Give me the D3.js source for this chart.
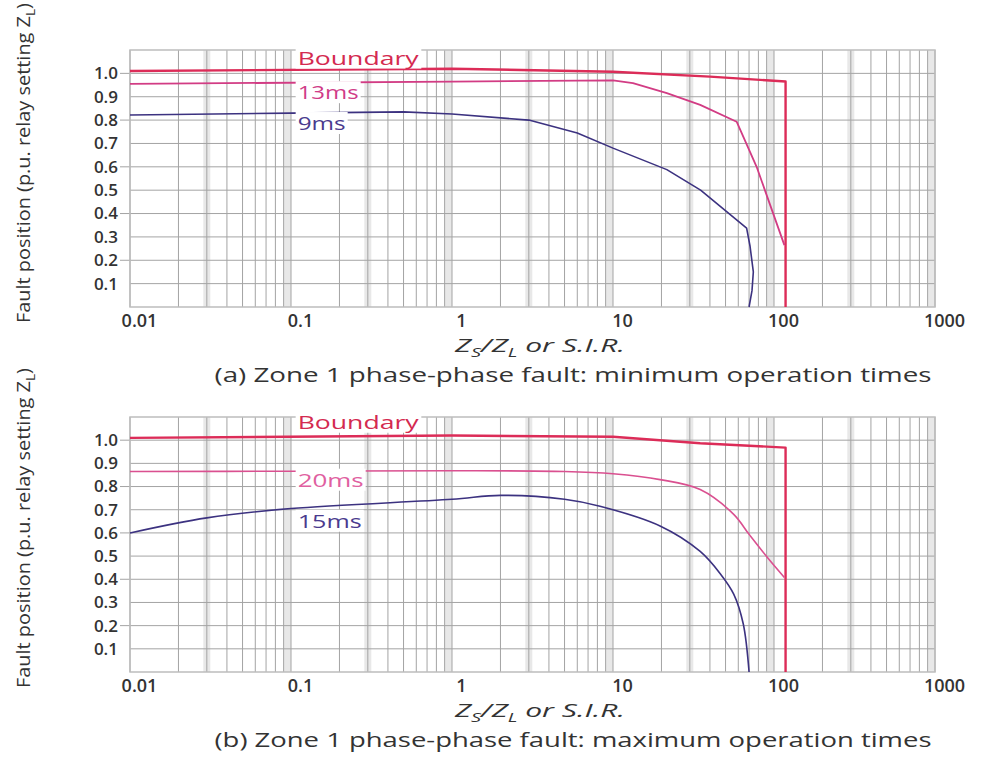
<!DOCTYPE html>
<html>
<head>
<meta charset="utf-8">
<script src="https://cdn.jsdelivr.net/npm/d3@7"></script>
<style>
  body { margin: 0; background: #fff; }
  svg { display: block; font-family: "Open Sans", "DejaVu Sans", sans-serif; }
</style>
</head>
<body>
<svg id="chart" width="983" height="762"></svg>
<script>
// ---- data ----
const xTicks = [0.01, 0.1, 1, 10, 100, 1000];
const yTicks = [0.1, 0.2, 0.3, 0.4, 0.5, 0.6, 0.7, 0.8, 0.9, 1.0];

// (a) minimum operation times
const aBoundaryX = [0.01, 1, 10, 40, 118, 118];
const aBoundaryY = [1.01, 1.02, 1.007, 0.986, 0.965, 0];
const a13msX = [0.01, 1, 10, 13.3, 21.6, 34.8, 58.6, 78, 116];
const a13msY = [0.955, 0.965, 0.97, 0.958, 0.915, 0.865, 0.793, 0.6, 0.265];
const a9msX = [0.01, 0.1, 0.5, 1, 3, 6, 10, 21.6, 35, 67.6, 71, 74.4, 73, 70];
const a9msY = [0.822, 0.83, 0.835, 0.826, 0.8, 0.745, 0.68, 0.588, 0.5, 0.338, 0.26, 0.15, 0.07, 0];

// (b) maximum operation times
const bBoundaryX = [0.01, 1, 10, 34.8, 118, 118];
const bBoundaryY = [1.01, 1.02, 1.015, 0.987, 0.968, 0];
const b20msX = [0.01, 0.1, 1, 5, 10, 19.6, 34.8, 56.2, 70, 91, 116];
const b20msY = [0.865, 0.866, 0.868, 0.865, 0.855, 0.83, 0.787, 0.68, 0.594, 0.494, 0.408];
const b15msX = [0.01, 0.03, 0.1, 1, 2, 5, 8.3, 19.6, 34.8, 46.6, 56.2, 64.4, 70];
const b15msY = [0.6, 0.665, 0.705, 0.745, 0.762, 0.745, 0.715, 0.63, 0.52, 0.422, 0.336, 0.208, 0];

const captions = [
  "(a) Zone 1 phase-phase fault: minimum operation times",
  "(b) Zone 1 phase-phase fault: maximum operation times"
];

const red = "#dc2c58", pink = "#d23c84", purple = "#3c3280";

const zip = (xs, ys) => xs.map((v, i) => [v, ys[i]]);

const panels = [
  {
    top: 50, h: 257, caption: captions[0],
    series: [
      { name: "Boundary", pts: zip(aBoundaryX, aBoundaryY), color: red, w: 2.4, lab: 1.066, labW: 121, labColor: "#d42a50" },
      { name: "13ms", pts: zip(a13msX, a13msY), color: pink, w: 1.8, lab: 0.918, labW: 61, labColor: "#d03c88" },
      { name: "9ms", pts: zip(a9msX, a9msY), color: purple, w: 1.6, lab: 0.786, labW: 48, labColor: "#4a3a8e" }
    ],
    curve: d3.curveLinear
  },
  {
    top: 417, h: 255, caption: captions[1],
    series: [
      { name: "Boundary", pts: zip(bBoundaryX, bBoundaryY), color: red, w: 2.4, lab: 1.078, labW: 121, labColor: "#d42a50" },
      { name: "20ms", pts: zip(b20msX, b20msY), color: "#da5090", w: 1.6, lab: 0.828, labW: 66, labColor: "#e060a0" },
      { name: "15ms", pts: zip(b15msX, b15msY), color: purple, w: 1.6, lab: 0.651, labW: 64, labColor: "#4a3a8e" }
    ],
    curve: d3.curveCatmullRom.alpha(0.5)
  }
];

const svg = d3.select("#chart");
const left = 130, width = 805;
const x = d3.scaleLog().domain([0.01, 1000]).range([0, width]);

panels.forEach(drawPanel);

function drawPanel(p) {
  const y = d3.scaleLinear().domain([0, 1.1]).range([p.h, 0]);
  const g = svg.append("g").attr("transform", `translate(${left},${p.top})`);

  // light bands at 3 and 9-10 in each decade
  const decades = [0.01, 0.1, 1, 10, 100];
  decades.forEach((d) => {
    g.append("rect").attr("x", x(3 * d) - 3.5).attr("y", 0)
      .attr("width", 7).attr("height", p.h).attr("fill", "#e8e8e8");
    g.append("rect").attr("x", x(9 * d)).attr("y", 0)
      .attr("width", x(10 * d) - x(9 * d)).attr("height", p.h).attr("fill", "#e8e8e8");
  });

  // log grid
  const vals = [];
  decades.forEach((d) => { for (let k = 1; k <= 9; k++) vals.push(k * d); });
  vals.push(1000);
  g.selectAll(".vgrid").data(vals).enter().append("line")
    .attr("class", "vgrid")
    .attr("x1", (d) => x(d)).attr("x2", (d) => x(d))
    .attr("y1", 0).attr("y2", p.h)
    .attr("stroke", "#a4a4a4").attr("stroke-width", 1);

  g.selectAll(".hgrid").data(yTicks).enter().append("line")
    .attr("class", "hgrid")
    .attr("x1", (d) => (Math.round(d * 10) % 2 === 0 ? -10 : 0)).attr("x2", width)
    .attr("y1", (d) => y(d)).attr("y2", (d) => y(d))
    .attr("stroke", "#a4a4a4").attr("stroke-width", 1);

  g.append("rect").attr("width", width).attr("height", p.h)
    .attr("fill", "none").attr("stroke", "#bdbdbd").attr("stroke-width", 1.5);

  // axes (labels only)
  const xAxis = d3.axisBottom(x).tickValues(xTicks)
    .tickFormat((d) => String(d)).tickSize(0).tickPadding(7);
  const gx = g.append("g").attr("transform", `translate(0,${p.h})`).call(xAxis);
  gx.select(".domain").remove();
  gx.selectAll("text").attr("dx", 9).attr("font-size", 18)
    .attr("font-family", "'Open Sans', sans-serif").attr("font-weight", 600).attr("fill", "#333");

  const yAxis = d3.axisLeft(y).tickValues(yTicks)
    .tickFormat(d3.format(".1f")).tickSize(0).tickPadding(12);
  const gy = g.append("g").call(yAxis);
  gy.select(".domain").remove();
  gy.selectAll("text").attr("font-size", 17)
    .attr("font-family", "'Open Sans', sans-serif").attr("font-weight", 600).attr("fill", "#333");

  // curves
  const line = d3.line().x((d) => x(d[0])).y((d) => y(d[1]));
  p.series.forEach((s) => {
    g.append("path").datum(s.pts)
      .attr("fill", "none").attr("stroke", s.color).attr("stroke-width", s.w)
      .attr("stroke-linejoin", "round")
      .attr("d", line.curve(s.name === "Boundary" ? d3.curveLinear : p.curve));
  });

  // series labels with white backing
  p.series.forEach((s) => {
    const t = g.append("text")
      .attr("x", x(0.11)).attr("y", y(s.lab)).attr("dy", "0.35em")
      .attr("font-size", 19).attr("font-weight", 500).attr("fill", s.labColor)
      .attr("textLength", s.labW).attr("lengthAdjust", "spacingAndGlyphs")
      .text(s.name);
    const b = t.node().getBBox();
    g.insert("rect", () => t.node())
      .attr("x", b.x - 2).attr("y", b.y + 2).attr("width", b.width + 4).attr("height", b.height - 4)
      .attr("fill", "#fff");
  });

  // axis title
  const xt = svg.append("text")
    .attr("x", 540).attr("y", p.top + p.h + 45)
    .attr("text-anchor", "middle").attr("font-size", 18).attr("font-style", "italic")
    .attr("fill", "#333").attr("textLength", 170).attr("lengthAdjust", "spacingAndGlyphs");
  xt.append("tspan").text("Z");
  xt.append("tspan").attr("font-size", 12).attr("dy", 5).text("S");
  xt.append("tspan").attr("dy", -5).text("/Z");
  xt.append("tspan").attr("font-size", 12).attr("dy", 5).text("L");
  xt.append("tspan").attr("dy", -5).text(" or S.I.R.");

  // caption
  svg.append("text")
    .attr("x", 573).attr("y", p.top + p.h + 75)
    .attr("text-anchor", "middle").attr("font-size", 20).attr("fill", "#333")
    .attr("textLength", 717).attr("lengthAdjust", "spacingAndGlyphs")
    .text(p.caption);

  // y title
  const yt = svg.append("text")
    .attr("transform", `translate(30,${p.top + p.h + 16}) rotate(-90)`)
    .attr("font-size", 19).attr("fill", "#333")
    .attr("textLength", 320).attr("lengthAdjust", "spacingAndGlyphs");
  yt.append("tspan").text("Fault position (p.u. relay setting Z");
  yt.append("tspan").attr("font-size", 13).attr("dy", 5).text("L");
  yt.append("tspan").attr("dy", -5).text(")");
}
</script>
</body>
</html>
